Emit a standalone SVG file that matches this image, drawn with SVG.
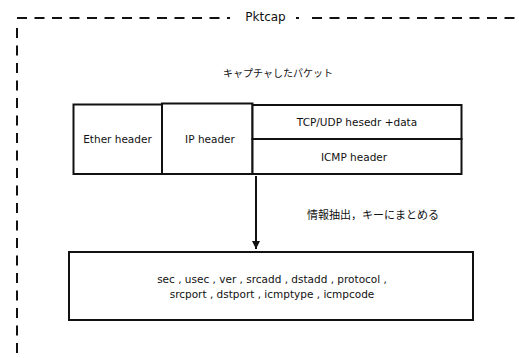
<svg xmlns="http://www.w3.org/2000/svg" width="519" height="358" viewBox="0 0 519 358">
<style>
text{font-family:"Noto Sans CJK JP","DejaVu Sans",sans-serif;font-size:11px;fill:#111;text-anchor:middle;dominant-baseline:central}
text.l{font-family:"DejaVu Sans","Noto Sans CJK JP",sans-serif;font-size:10.5px}
.box{fill:#fff;stroke:#111;stroke-width:2}
.frame{fill:none;stroke:#111;stroke-width:2;stroke-dasharray:10 7.5}
</style>
<defs>
<marker id="ah" viewBox="0 0 10 10" refX="10" refY="5" markerWidth="4" markerHeight="4" orient="auto"><path d="M0,0 L10,5 L0,10 z" fill="#111"/></marker>
</defs>
<g id="frame">
<path class="frame" d="M17,18 H230"/>
<path d="M296,18 H299" stroke="#111" stroke-width="2"/>
<path class="frame" d="M312,18 H519"/>
<path class="frame" d="M17,28 V358"/>
<text class="l" x="265.5" y="17" style="font-size:12px">Pktcap</text>
</g>
<text x="278" y="72" style="font-size:10px">キャプチャしたパケット</text>
<g id="ether"><rect class="box" x="73.5" y="104.5" width="88.5" height="69.5"/><text class="l" x="117.5" y="139">Ether header</text></g>
<g id="ip"><rect class="box" x="162" y="103.5" width="90.5" height="70.5"/><text class="l" x="210" y="139">IP header</text></g>
<g id="tcp"><rect class="box" x="252.5" y="105" width="209" height="34"/><text class="l" x="357" y="122">TCP/UDP hesedr +data</text></g>
<g id="icmp"><rect class="box" x="252.5" y="139" width="209" height="35"/><text class="l" x="354" y="156.5">ICMP header</text></g>
<g id="connectors">
<line x1="256" y1="176" x2="256" y2="249" stroke="#111" stroke-width="2" marker-end="url(#ah)"/>
</g>
<text x="373" y="214">情報抽出，キーにまとめる</text>
<g id="keys"><rect class="box" x="69" y="252" width="404" height="68"/>
<text class="l" x="272" y="279">sec , usec , ver , srcadd , dstadd , protocol ,</text>
<text class="l" x="272" y="294">srcport , dstport , icmptype , icmpcode</text></g>
</svg>
